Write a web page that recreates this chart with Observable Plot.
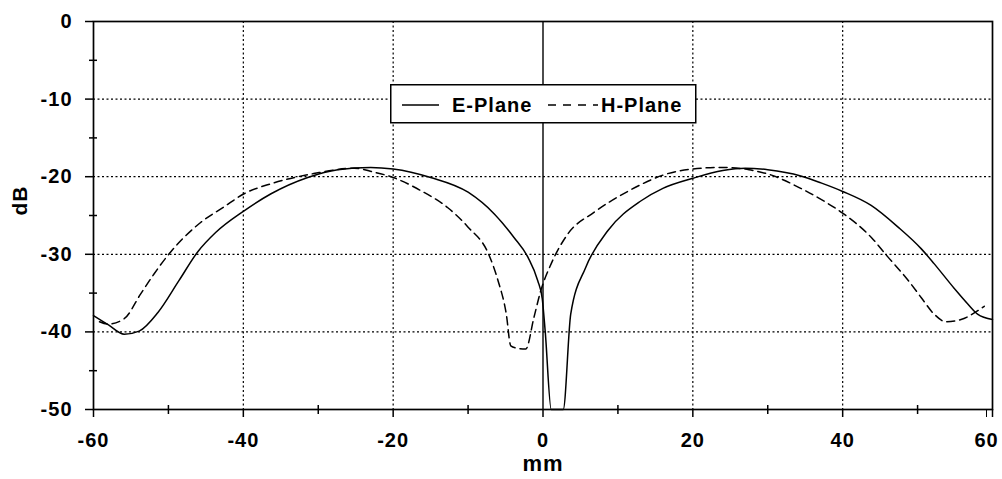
<!DOCTYPE html>
<html>
<head>
<meta charset="utf-8">
<script src="https://cdn.jsdelivr.net/npm/d3@7"></script>
<script src="https://cdn.jsdelivr.net/npm/@observablehq/plot@0.6"></script>
<style>
  html, body { margin: 0; padding: 0; background: #fff; }
  #wrap { position: relative; width: 1002px; height: 479px; }
  #legend { position: absolute; left: 390px; top: 84px; }
</style>
</head>
<body>
<div id="wrap"></div>
<script>
// E-plane field profile (solid line): position in mm, level in dB
const eMm = [-60, -58, -55.9, -53.9, -51.4, -48.6, -46.1, -43.7, -39.9, -36.3, -31.4, -27.4, -23, -20, -15, -10, -6.5, -3.9, -2.0, -0.7, -0.1, 0.3, 1.1, 2.7, 3.7, 5.7, 8.7, 13.1, 16, 20, 24, 27, 30, 34.4, 37.1, 40, 43.8, 47.4, 50.5, 52.2, 54.9, 56.7, 58, 60];
const eDb = [-37.9, -39.1, -40.3, -39.9, -37.5, -33.4, -29.7, -27.2, -24.4, -22.2, -20.1, -19.1, -18.8, -19.0, -20.1, -22.0, -24.8, -27.8, -30.4, -33.4, -35.7, -40, -50, -50, -37.7, -31.7, -26.9, -23.1, -21.5, -20.2, -19.2, -18.9, -19.1, -19.9, -20.8, -21.9, -23.7, -26.5, -29.3, -31.2, -34.4, -36.4, -37.7, -38.4];

// H-plane field profile (dashed line)
const hMm = [-59.2, -58.1, -55.9, -53.7, -51.9, -49.7, -48.3, -45.7, -42.6, -39.9, -36.3, -30.6, -25.2, -22.6, -20, -16.3, -12.7, -10, -7.3, -6, -4.9, -4.3, -3.5, -2.3, -1.2, -0.3, 1.1, 3.3, 6.8, 11.3, 13.1, 16, 20, 24, 27.5, 30.5, 34.4, 37.6, 40, 43.8, 46, 48.7, 50.5, 52.2, 53.8, 55.8, 58.9];
const hDb = [-38.7, -39.0, -38.3, -35.1, -32.5, -29.7, -28.2, -25.9, -23.9, -22.2, -20.9, -19.6, -18.9, -19.4, -20.1, -21.8, -24.0, -26.5, -29.9, -33.4, -37.7, -41.8, -42.1, -42.2, -38.1, -34.7, -31.2, -27.4, -24.6, -21.9, -21.0, -19.8, -19.0, -18.8, -19.1, -19.8, -21.5, -23.2, -24.7, -27.8, -30.3, -33.3, -35.6, -37.7, -38.7, -38.4, -36.7];

// Axis ticks and grid positions
const xTicks = [-60, -40, -20, 0, 20, 40];
const xLastTick = [60];
const xMinor = [-50, -30, -10, 10, 30, 50];
const xGrid = [-40, -20, 20, 40];
const yTicks = [0, -10, -20, -30, -40, -50];
const yMinor = [-5, -15, -25, -35, -45];
const yGrid = [-10, -20, -30, -40];

const seriesNames = ["E-Plane", "H-Plane"];
const xTitle = "mm";
const yTitle = "dB";

const ePlane = eMm.map((mm, i) => ({mm, db: eDb[i]}));
const hPlane = hMm.map((mm, i) => ({mm, db: hDb[i]}));

// plain hyphen-minus, as printed on the axes
const fmt = d => String(d);
const dotted = {stroke: "black", strokeOpacity: 1, strokeWidth: 1.2, strokeDasharray: "2,2.5"};

const chart = Plot.plot({
  width: 1002,
  height: 479,
  marginLeft: 93,
  marginRight: 10,
  marginTop: 21,
  marginBottom: 70,
  style: {
    fontFamily: "'Liberation Sans', Arial, sans-serif",
    fontSize: "20px",
    fontWeight: "bold",
    letterSpacing: "1px",
    background: "white",
    color: "black"
  },
  x: {domain: [-60, 60]},
  y: {domain: [-50, 0]},
  marks: [
    Plot.gridY(yGrid, dotted),
    Plot.gridX(xGrid, dotted),
    Plot.ruleX([0], {stroke: "black", strokeWidth: 1.4}),
    Plot.frame({stroke: "black", strokeWidth: 1.7}),
    Plot.line(ePlane, {x: "mm", y: "db", stroke: "black", strokeWidth: 1.5, curve: "monotone-x"}),
    Plot.line(hPlane, {x: "mm", y: "db", stroke: "black", strokeWidth: 1.5, strokeDasharray: "8,5", curve: "monotone-x"}),
    Plot.axisY(yTicks, {anchor: "left", tickSize: 8, tickPadding: 13, strokeWidth: 1.5, tickFormat: fmt, label: null}),
    Plot.axisY(yMinor, {anchor: "left", tickSize: 8, dx: 4, text: null, strokeWidth: 1.5, label: null}),
    Plot.axisX(xTicks, {anchor: "bottom", tickSize: 8, tickPadding: 15, strokeWidth: 1.5, tickFormat: fmt, label: null}),
    Plot.axisX(xLastTick, {anchor: "bottom", tickSize: 8, strokeWidth: 1.5, text: null, label: null}),
    Plot.axisX(xLastTick, {anchor: "bottom", tickSize: 8, tickPadding: 15, dx: -6, tick: null, tickFormat: fmt, label: null}),
    Plot.axisX(xMinor, {anchor: "bottom", tickSize: 9, dy: -4, text: null, strokeWidth: 1.5, label: null}),
    Plot.text([xTitle], {frameAnchor: "bottom", dy: 61, text: d => d, fontSize: 22, fontWeight: "bold"}),
    Plot.text([yTitle], {frameAnchor: "left", dx: -73, rotate: -90, text: d => d, fontSize: 21, fontWeight: "bold"})
  ]
});

const wrap = document.getElementById("wrap");
wrap.appendChild(chart);

// Boxed legend sitting inside the plot area
const legend = d3.create("svg")
  .attr("id", "legend")
  .attr("width", 307)
  .attr("height", 40)
  .style("font-family", "'Liberation Sans', Arial, sans-serif")
  .style("font-size", "20px")
  .style("font-weight", "bold")
  .style("letter-spacing", "1px");
legend.append("rect")
  .attr("x", 0.75).attr("y", 0.75).attr("width", 305).attr("height", 38)
  .attr("fill", "white").attr("stroke", "black").attr("stroke-width", 1.5);
legend.append("line")
  .attr("x1", 12).attr("x2", 49).attr("y1", 21).attr("y2", 21)
  .attr("stroke", "black").attr("stroke-width", 1.5);
legend.append("text").attr("x", 62).attr("y", 28).text(seriesNames[0]);
legend.append("line")
  .attr("x1", 158).attr("x2", 208).attr("y1", 21).attr("y2", 21)
  .attr("stroke", "black").attr("stroke-width", 1.5).attr("stroke-dasharray", "8,7");
legend.append("text").attr("x", 211).attr("y", 28).text(seriesNames[1]);
wrap.appendChild(legend.node());
</script>
</body>
</html>
